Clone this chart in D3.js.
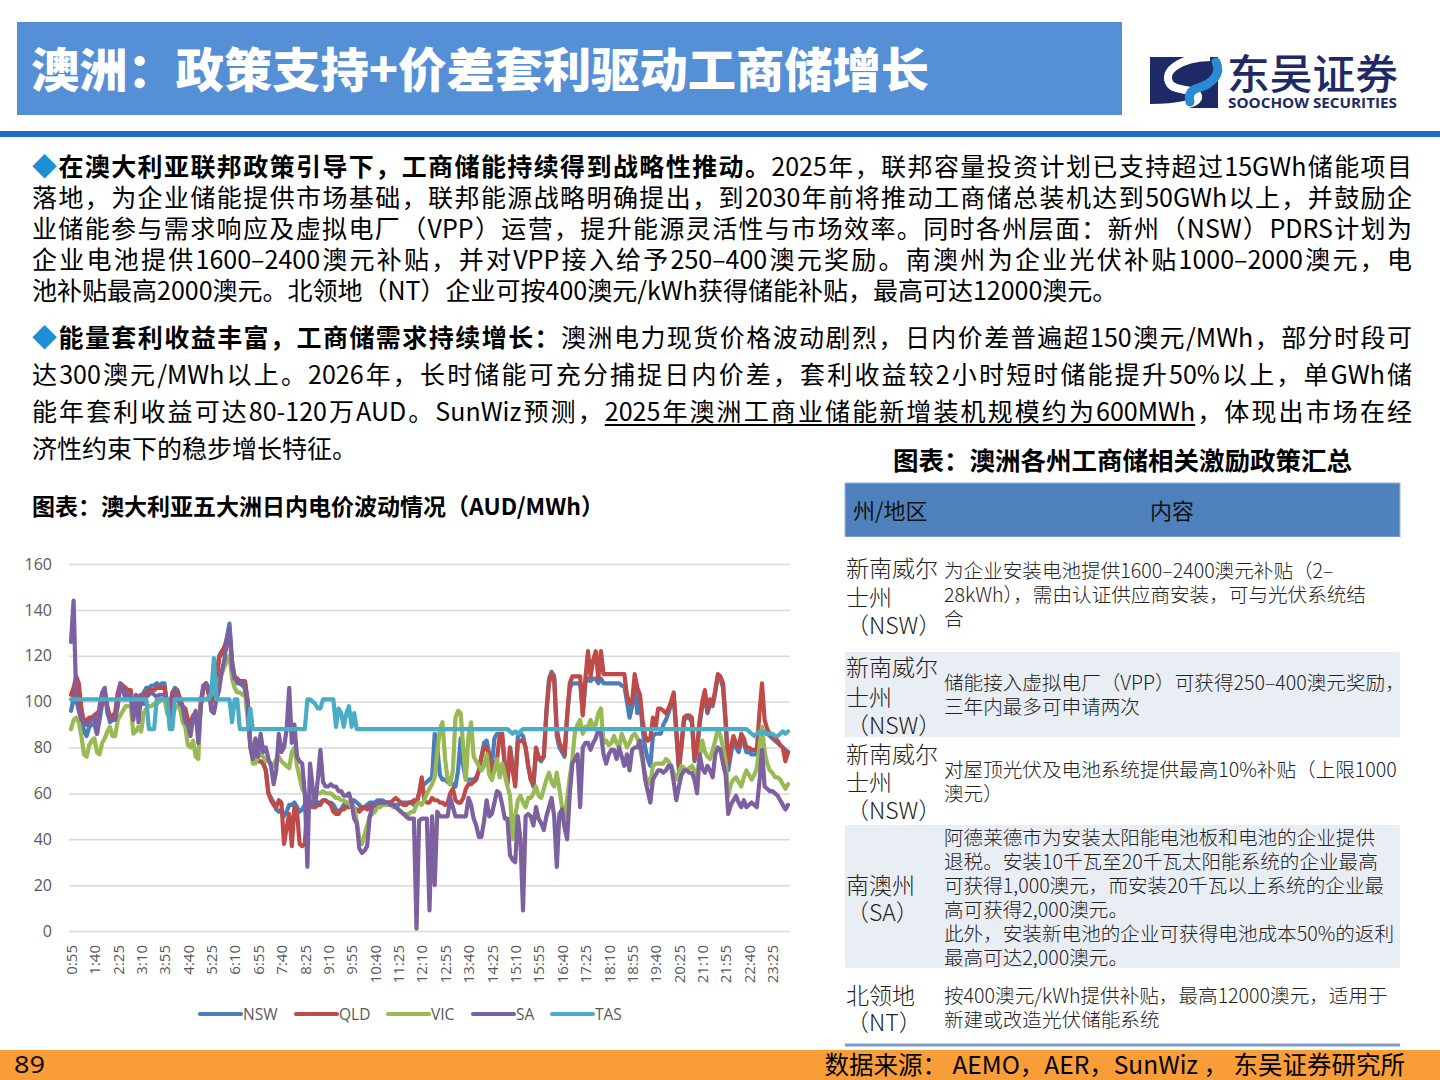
<!DOCTYPE html>
<html><head><meta charset="utf-8">
<script src="https://cdn.jsdelivr.net/npm/d3@7"></script>
<style>
html,body{margin:0;padding:0;background:#fff;}
#page{position:relative;width:1440px;height:1080px;overflow:hidden;font-family:"Noto Sans CJK SC","Noto Sans",sans-serif;}
#page svg{position:absolute;left:0;top:0;}
.line{position:absolute;left:32px;width:1380px;font-size:25px;line-height:25px;color:#000;text-align:justify;text-align-last:justify;white-space:nowrap;}
.last{text-align-last:left;}
.b{font-weight:700;}
.dia{color:#1E8FD6;}
.u{text-decoration:underline;text-underline-offset:3px;}
</style></head><body><div id="page"></div>
<script>
// ---------------- data ----------------
const seriesNames = ["NSW","QLD","VIC","SA","TAS"];
const tickLabels = ["0:55","1:40","2:25","3:10","3:55","4:40","5:25","6:10","6:55","7:40","8:25","9:10","9:55","10:40","11:25","12:10","12:55","13:40","14:25","15:10","15:55","16:40","17:25","18:10","18:55","19:40","20:25","21:10","21:55","22:40","23:25"];
const yTicks = [0,20,40,60,80,100,120,140,160];
const categories = [];
for (let i = 0; i < 277; i++) { const m = 55 + 5 * i; categories.push(Math.floor(m / 60) + ":" + String(m % 60).padStart(2, "0")); }

const nsw = [
96,101,106,104,95,87,85,89,90,90, 86,92,99,103,97,91,92,94,102,106,
105,104,103,103,94,98,100,102,104,106, 106,107,107,108,107,108,108,98,97,104,
106,105,101,97,96,91,89,93,94,86, 100,107,108,104,100,106,110,120,122,123,
128,134,118,110,108,108,107,108,100,82, 78,75,74,74,73,70,60,58,56,53,
52,53,50,52,55,55,56,54,52,53, 55,57,57,56,57,56,56,57,57,56,
56,55,53,52,53,55,56,55,57,57, 56,55,53,54,55,56,56,56,57,57,
57,56,56,56,55,55,55,56,56,56, 56,56,55,56,60,63,64,65,66,67,
86,80,68,66,66,65,64,64,63,70, 84,72,66,66,66,66,67,70,76,82,
83,77,72,84,86,86,84,72,65,80, 72,65,85,86,85,80,72,66,63,78,
75,74,76,96,110,113,111,85,80,78, 76,94,106,108,108,108,108,95,108,110,
109,110,110,108,110,108,108,108,108,108, 108,108,107,107,100,93,98,108,95,102,
88,80,75,72,85,86,86,86,90,92, 95,99,102,86,70,80,92,93,93,91,
74,79,90,98,102,95,99,98,104,111, 110,106,90,70,77,83,80,78,83,82,
78,78,77,77,77,85,86,86,86,85, 84,83,82,81,80,79,78];

const qld = [
103,106,111,108,97,91,92,93,93,94, 95,96,101,104,98,93,94,95,104,108,
107,106,105,105,95,100,102,103,103,104, 105,105,105,106,106,106,106,99,98,103,
105,104,101,98,97,92,91,94,95,88, 100,107,108,103,99,106,108,119,121,124,
126,130,116,111,110,109,109,109,100,82, 80,76,74,74,73,70,60,57,55,54,
57,56,38,45,51,37,54,52,38,37, 38,55,55,54,54,55,55,57,57,56,
55,52,51,51,53,53,54,54,56,53, 53,52,54,54,53,54,55,55,55,56,
55,55,56,56,57,58,57,56,55,55, 56,56,57,56,60,67,57,56,56,58,
57,57,56,56,55,56,60,62,57,56, 56,58,62,64,64,65,66,70,76,80,
80,77,66,72,75,85,86,72,64,80, 70,63,82,83,83,80,72,66,64,80,
76,75,76,95,108,112,110,88,82,80, 77,94,108,111,111,111,111,94,110,122,
111,118,122,110,122,112,112,112,112,112, 112,112,112,112,103,99,100,112,106,103,
92,85,83,84,93,88,97,97,96,95, 97,100,104,88,72,82,93,94,94,93,
75,80,92,100,105,96,101,99,105,112, 111,108,92,73,80,85,82,80,86,84,
80,80,79,79,79,95,108,92,88,86, 85,84,83,81,80,74,78];

const vic = [
88,92,93,91,85,77,76,81,83,84, 78,77,82,84,87,89,85,85,92,94,
96,98,98,98,86,87,89,87,95,97, 98,98,99,99,100,101,101,95,93,93,
97,98,97,91,89,81,80,83,76,75, 100,101,101,102,103,105,107,109,112,115,
118,120,110,106,104,104,103,104,92,82, 73,73,76,77,76,74,74,73,72,75,
76,74,73,72,71,78,80,72,67,62, 60,59,59,58,60,60,60,61,60,60,
60,59,58,58,57,57,56,56,54,54, 48,40,38,42,46,50,51,52,54,54,
55,55,55,55,54,54,53,52,51,51, 51,52,52,55,56,55,57,60,62,64,
67,78,88,91,75,66,64,70,93,96, 95,80,66,85,91,76,74,72,70,72,
77,68,66,70,75,67,73,68,63,59, 40,50,57,59,56,54,58,58,60,63,
59,58,62,66,69,65,63,69,62,54, 49,58,67,75,87,90,92,86,89,89,
92,89,90,95,97,82,83,81,82,85, 82,80,86,83,80,82,85,86,84,80,
74,68,66,64,72,73,73,73,73,75, 74,72,69,66,69,72,71,70,71,72,
70,67,76,83,78,76,75,79,83,88, 85,80,74,59,64,66,67,65,63,67,
70,68,66,68,71,80,89,78,73,70, 69,67,67,66,64,62,64];

const sa = [
126,144,101,96,92,91,90,91,92,93, 86,98,104,106,95,92,92,92,98,108,
105,101,102,103,92,103,91,103,99,102, 103,104,103,102,103,103,103,101,93,94,
104,101,99,98,91,90,85,93,96,82, 98,106,108,106,96,95,101,105,113,118,
126,132,115,110,109,108,109,105,99,80, 75,84,76,86,78,80,75,72,64,70,
86,78,80,88,106,82,90,76,74,73, 60,28,73,63,55,66,79,65,63,63,
64,63,63,61,61,59,59,60,56,49, 47,36,34,35,37,50,54,55,56,56,
56,56,56,55,55,54,53,52,51,50, 49,49,49,1,48,49,49,49,9,50,
20,52,50,50,50,50,58,54,50,50, 50,50,50,58,55,49,46,41,41,48,
57,50,51,56,61,60,55,49,49,33, 31,30,50,40,9,50,51,50,46,54,
49,47,44,50,54,58,50,28,51,53, 45,40,60,73,75,77,54,80,82,82,
79,82,84,88,86,77,73,77,79,79, 75,80,76,72,77,70,79,80,80,83,
76,66,61,56,66,68,70,70,69,70, 72,72,65,57,63,68,70,70,69,69,
66,60,77,71,69,72,70,67,77,80, 79,73,68,51,55,57,59,56,54,57,
54,55,56,55,54,65,79,63,62,61, 61,60,59,57,55,53,55];

const tas = [
101,101,101,101,101,101,101,101,101,101, 101,101,101,101,101,101,101,101,101,101,
101,101,101,101,101,101,101,101,101,101, 88,88,88,101,101,101,101,101,88,88,
101,101,101,101,101,101,101,101,101,101, 101,101,101,101,104,119,101,101,101,101,
101,101,91,101,101,88,88,88,88,97, 88,88,88,88,88,88,88,88,88,88,
88,88,88,88,88,88,88,88,88,88, 88,101,101,100,99,97,97,101,101,101,
101,101,89,97,95,89,95,98,89,95, 88,88,88,88,88,88,88,88,88,88,
88,88,88,88,88,88,88,88,88,88, 88,88,88,88,88,88,88,88,88,88,
88,88,88,88,88,88,88,88,88,88, 88,88,88,88,88,88,88,88,88,88,
88,88,88,88,88,88,88,88,88,87, 86,87,86,87,88,88,88,88,88,88,
88,88,88,88,88,88,88,88,88,88, 88,88,88,88,88,88,88,88,88,88,
88,88,88,88,88,88,88,88,88,88, 88,88,88,88,88,88,88,88,88,88,
88,88,88,88,88,88,88,88,88,88, 88,88,88,88,88,88,88,88,88,88,
88,88,88,88,88,88,88,88,88,88, 88,88,88,88,88,88,88,88,88,88,
88,87,86,85,86,87,86,87,86,86, 86,85,85,86,87,86,87];

const tableHeader = ["州/地区","内容"];
const tableRegions = [
  ["新南威尔","士州","（NSW）"],
  ["新南威尔","士州","（NSW）"],
  ["新南威尔","士州","（NSW）"],
  ["南澳州","（SA）"],
  ["北领地","（NT）"]];
const tableContents = [
  ["为企业安装电池提供1600–2400澳元补贴（2–","28kWh），需由认证供应商安装，可与光伏系统结","合"],
  ["储能接入虚拟电厂（VPP）可获得250–400澳元奖励，","三年内最多可申请两次"],
  ["对屋顶光伏及电池系统提供最高10%补贴（上限1000","澳元）"],
  ["阿德莱德市为安装太阳能电池板和电池的企业提供","退税。安装10千瓦至20千瓦太阳能系统的企业最高","可获得1,000澳元，而安装20千瓦以上系统的企业最","高可获得2,000澳元。","此外，安装新电池的企业可获得电池成本50%的返利","最高可达2,000澳元。"],
  ["按400澳元/kWh提供补贴，最高12000澳元，适用于","新建或改造光伏储能系统"]];

// ---------------- drawing ----------------
const page = d3.select("#page");
const svg = page.append("svg").attr("width", 1440).attr("height", 1080);

// header
svg.append("rect").attr("x", 17).attr("y", 22).attr("width", 1105).attr("height", 93).attr("fill", "#5590D6");
svg.append("text").attr("x", 31).attr("y", 87).attr("fill", "#fff")
  .attr("font-size", 47).attr("font-weight", 900).attr("textLength", 898).attr("lengthAdjust", "spacingAndGlyphs")
  .text("澳洲：政策支持+价差套利驱动工商储增长");
// logo
const logo = svg.append("g");
logo.append("path").attr("d", "M1150,57 L1218,57 L1218,108 L1150,108 Z").attr("fill", "#1d2a66");
logo.append("path").attr("d", "M1210,57 C1178,58 1162,72 1170,84 C1176,92 1196,88 1198,96 C1200,104 1176,108 1150,108")
  .attr("fill", "none").attr("stroke", "#fff").attr("stroke-width", 8);
logo.append("path").attr("d", "M1216,62 C1222,74 1212,84 1198,88 C1190,90 1188,96 1190,102")
  .attr("fill", "none").attr("stroke", "#2b8ad4").attr("stroke-width", 9).attr("stroke-linecap", "round");
logo.append("text").attr("x", 1227).attr("y", 89).attr("font-size", 41).attr("fill", "#1d2a66").attr("font-weight", 500)
  .attr("textLength", 171).attr("lengthAdjust", "spacingAndGlyphs").text("东吴证券");
logo.append("text").attr("x", 1228).attr("y", 108).attr("font-size", 13.5).attr("font-weight", 700).attr("fill", "#1d2a66")
  .attr("font-family", "'Open Sans','Noto Sans',sans-serif").attr("textLength", 169).attr("lengthAdjust", "spacingAndGlyphs")
  .text("SOOCHOW SECURITIES");
svg.append("rect").attr("x", 0).attr("y", 131).attr("width", 1440).attr("height", 6).attr("fill", "#1c6fc0");

// body paragraphs
const lines = [
  {top:153, cls:"line", html:'<span class="dia">◆</span><span class="b">在澳大利亚联邦政策引导下，工商储能持续得到战略性推动。</span>2025年，联邦容量投资计划已支持超过15GWh储能项目'},
  {top:184, cls:"line", html:'落地，为企业储能提供市场基础，联邦能源战略明确提出，到2030年前将推动工商储总装机达到50GWh以上，并鼓励企'},
  {top:215, cls:"line", html:'业储能参与需求响应及虚拟电厂（VPP）运营，提升能源灵活性与市场效率。同时各州层面：新州（NSW）PDRS计划为'},
  {top:246, cls:"line", html:'企业电池提供1600–2400澳元补贴，并对VPP接入给予250–400澳元奖励。南澳州为企业光伏补贴1000–2000澳元，电'},
  {top:277, cls:"line last", html:'池补贴最高2000澳元。北领地（NT）企业可按400澳元/kWh获得储能补贴，最高可达12000澳元。'},
  {top:324, cls:"line", html:'<span class="dia">◆</span><span class="b">能量套利收益丰富，工商储需求持续增长：</span>澳洲电力现货价格波动剧烈，日内价差普遍超150澳元/MWh，部分时段可'},
  {top:361, cls:"line", html:'达300澳元/MWh以上。2026年，长时储能可充分捕捉日内价差，套利收益较2小时短时储能提升50%以上，单GWh储'},
  {top:398, cls:"line", html:'能年套利收益可达80-120万AUD。SunWiz预测，<span class="u">2025年澳洲工商业储能新增装机规模约为600MWh</span>，体现出市场在经'},
  {top:435, cls:"line last", html:'济性约束下的稳步增长特征。'}];
page.selectAll("div.line").data(lines).enter().append("div")
  .attr("class", d => d.cls).style("top", d => d.top + "px").html(d => d.html);

// chart title
svg.append("text").attr("x", 32).attr("y", 506).attr("dy", "0.37em").attr("font-size", 23).attr("font-weight", 700)
  .attr("fill", "#000").text("图表：澳大利亚五大洲日内电价波动情况（AUD/MWh）");

// chart
const x = d3.scalePoint().domain(categories).range([71, 788]);
const y = d3.scaleLinear().domain([0, 160]).range([931, 564]);
const chart = svg.append("g");
const yAxis = chart.append("g").attr("transform", "translate(69,0)")
  .call(d3.axisLeft(y).tickValues(yTicks).tickSize(-721).tickPadding(17));
yAxis.select(".domain").remove();
yAxis.selectAll(".tick line").attr("stroke", "#d9d9d9").attr("stroke-width", 1.5);
yAxis.selectAll(".tick text").attr("font-size", 16).attr("fill", "#595959")
  .attr("font-family", "'Open Sans','Noto Sans',sans-serif");
const xAxis = chart.append("g").attr("transform", "translate(0,931)")
  .call(d3.axisBottom(x).tickValues(tickLabels).tickSize(0));
xAxis.select(".domain").remove();
xAxis.selectAll(".tick text").attr("transform", "rotate(-90)").attr("x", -14).attr("y", 0).attr("dy", "0.35em")
  .style("text-anchor", "end").attr("font-size", 15).attr("fill", "#595959")
  .attr("font-family", "'Open Sans','Noto Sans',sans-serif");

const colors = {NSW:"#4A7EBB", QLD:"#BE4B48", VIC:"#98B954", SA:"#7D60A0", TAS:"#4BACC6"};
const seriesData = {NSW:nsw, QLD:qld, VIC:vic, SA:sa, TAS:tas};
const lineGen = d3.line().x((d, i) => x(categories[i])).y(d => y(d));
seriesNames.forEach(n => {
  chart.append("path").datum(seriesData[n]).attr("d", lineGen).attr("fill", "none")
    .attr("stroke", colors[n]).attr("stroke-width", 4.2).attr("stroke-linejoin", "round").attr("stroke-linecap", "round");
});

// legend
const legendX = [200, 296, 388, 473, 552];
const lg = svg.append("g").attr("transform", "translate(0,1014)");
seriesNames.forEach((n, k) => {
  lg.append("line").attr("x1", legendX[k]).attr("x2", legendX[k] + 41).attr("y1", 0).attr("y2", 0)
    .attr("stroke", colors[n]).attr("stroke-width", 4.2).attr("stroke-linecap", "round");
  lg.append("text").attr("x", legendX[k] + 43).attr("y", 0).attr("dy", "0.36em").attr("font-size", 15.5)
    .attr("fill", "#595959").attr("font-family", "'Open Sans','Noto Sans',sans-serif").text(n);
});

// table
svg.append("text").attr("x", 893).attr("y", 461).attr("dy", "0.37em").attr("font-size", 25.5).attr("font-weight", 700)
  .attr("fill", "#000").text("图表：澳洲各州工商储相关激励政策汇总");
const tbl = svg.append("g");
tbl.append("rect").attr("x", 845).attr("y", 483).attr("width", 555).attr("height", 54).attr("fill", "#4F81BD")
  .attr("stroke", "#9db6d9").attr("stroke-width", 1);
tbl.append("text").attr("x", 853).attr("y", 511).attr("dy", "0.37em").attr("font-size", 22).attr("fill", "#111").text(tableHeader[0]);
tbl.append("text").attr("x", 1172).attr("y", 511).attr("dy", "0.37em").attr("font-size", 22).attr("fill", "#111")
  .attr("text-anchor", "middle").text(tableHeader[1]);
const rowBands = [[537,652,"#fff"],[652,737,"#E9EDF4"],[737,825,"#fff"],[825,968,"#E9EDF4"],[968,1044,"#fff"]];
const regionY = [[568,597,625],[667,697,725],[754,782,810],[885,912],[995,1022]];
const contentY = [[571,595,619],[683,707],[770,794],[838,862,886,910,934,958],[996,1020]];
rowBands.forEach((b, r) => {
  tbl.append("rect").attr("x", 845).attr("y", b[0]).attr("width", 555).attr("height", b[1] - b[0]).attr("fill", b[2]);
  tableRegions[r].forEach((t, j) => {
    tbl.append("text").attr("x", 846).attr("y", regionY[r][j]).attr("dy", "0.37em").attr("font-size", 23)
      .attr("font-weight", 300).attr("fill", "#222").text(t);
  });
  tableContents[r].forEach((t, j) => {
    tbl.append("text").attr("x", 944).attr("y", contentY[r][j]).attr("dy", "0.37em").attr("font-size", 19.6)
      .attr("font-weight", 300).attr("fill", "#222").text(t);
  });
});
tbl.append("line").attr("x1", 845).attr("x2", 1400).attr("y1", 1045).attr("y2", 1045).attr("stroke", "#7C9CCB").attr("stroke-width", 3);

// footer
svg.append("rect").attr("x", 0).attr("y", 1050).attr("width", 1440).attr("height", 30).attr("fill", "#F99D38");
svg.append("text").attr("x", 14).attr("y", 1064).attr("dy", "0.36em").attr("font-size", 24).attr("fill", "#111")
  .attr("font-family", "'Noto Sans',sans-serif").attr("textLength", 31).attr("lengthAdjust", "spacingAndGlyphs").text("89");
svg.append("text").attr("x", 1405).attr("y", 1065).attr("dy", "0.37em").attr("font-size", 24.5).attr("fill", "#000")
  .attr("text-anchor", "end").text("数据来源： AEMO，AER，SunWiz ， 东吴证券研究所");
</script></body></html>
